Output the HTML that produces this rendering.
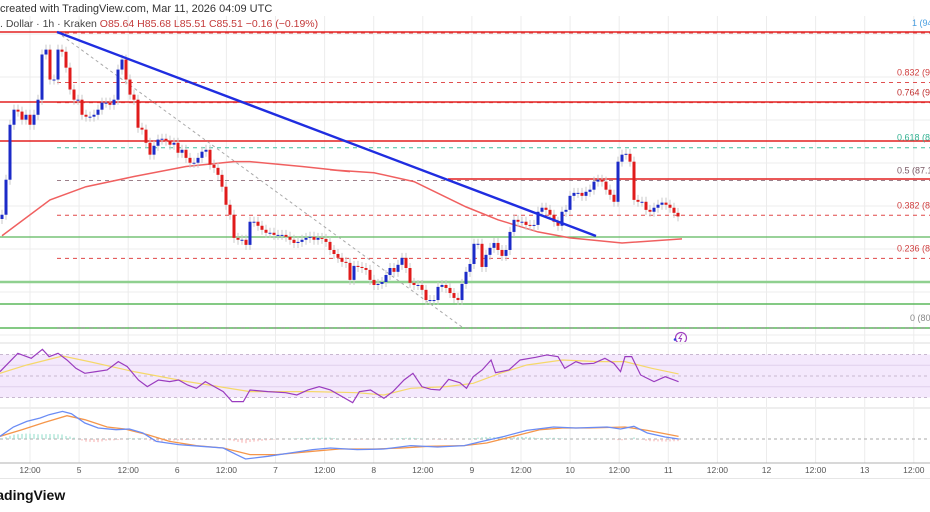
<!DOCTYPE html>
<html><head><meta charset="utf-8">
<style>
html,body{margin:0;padding:0;background:#fff;}
body{width:930px;height:512px;overflow:hidden;position:relative;font-family:"Liberation Sans",sans-serif;}
svg{position:absolute;left:0;top:0;}
</style></head>
<body>
<svg id="chart" width="930" height="512"></svg>
<script>
// ---- data ----
const closes=[85.59,87.24,89.83,90.54,90.45,90.07,90.30,89.83,90.30,91.01,93.14,93.37,91.96,91.96,93.37,93.27,92.52,91.49,91.01,91.01,90.30,90.21,90.21,90.30,90.54,90.87,90.87,90.77,91.01,92.43,92.90,91.96,91.25,91.01,89.69,89.60,88.98,88.42,88.84,89.13,89.17,89.08,88.89,88.98,88.51,88.65,88.27,88.04,88.04,88.27,88.56,88.65,87.95,87.80,87.47,86.91,86.06,85.59,84.50,84.41,84.41,84.17,85.26,85.26,85.07,84.88,84.74,84.74,84.64,84.64,84.64,84.55,84.41,84.26,84.31,84.41,84.50,84.55,84.41,84.50,84.45,84.31,83.93,83.74,83.56,83.37,83.32,82.52,83.18,83.13,83.08,82.99,82.52,82.28,82.33,82.42,82.75,83.08,82.90,83.23,83.56,83.08,82.38,82.28,82.28,82.05,81.57,81.57,81.57,82.19,82.28,82.14,81.90,81.67,81.57,82.33,82.90,83.27,84.22,84.22,83.13,83.70,84.03,84.26,83.93,83.65,83.93,84.78,85.35,85.26,85.26,85.11,85.07,85.11,85.73,85.92,85.82,85.59,85.26,85.07,85.73,85.82,86.48,86.62,86.62,86.48,86.67,86.77,87.15,87.24,87.15,86.77,86.53,86.20,88.09,88.42,88.46,88.09,86.29,86.20,86.20,85.82,85.73,85.92,86.06,86.16,86.06,85.92,85.68,85.51];
const maIdx=[0,12,21,33,46,58,62,75,87,82,93,103,116,124,134,142,155,170];
const maVals=[84.60,86.29,86.91,87.39,87.86,88.09,88.09,87.86,87.62,87.71,87.57,87.15,85.96,85.35,84.78,84.50,84.26,84.45];
const rsiX=[0,40,70,95,110,130,150,170,190,215,240,265,285,310,330,355,380,400,420,440,460,480,500,520,545,560,600,640,665,690,715,740,760,790,805,830,860,880,905,925,945,965,985,1005,1030,1045,1060,1080,1100,1110,1140,1165,1200,1225,1250,1265,1290,1305,1330,1355,1375,1390,1400,1415,1435,1465,1490,1520];
const rsiVals=[54.05,71.1,66.45,74.8,68,71.1,64.9,57.15,52.5,54.05,55.6,63.35,58.7,46.3,40.1,46.3,44.75,46.3,41.65,38.55,44.75,40.1,35.45,26.15,26.15,37,35.45,34.5,32.35,37,40.1,37,32.35,25.2,35.45,37,29.25,35.45,46.3,52.5,40.1,37.6,37,46.9,43.8,38.55,49.4,55.6,64.9,53.1,55.6,64.9,67.4,69.6,68,57.15,63.35,61.2,61.8,66.45,61.8,54.05,68,68,50.95,44.75,49.4,44.75];
const rsiMaX=[0,60,140,200,300,420,560,700,800,860,920,1000,1060,1120,1180,1260,1340,1400,1460,1520];
const rsiMaVals=[52.5,60.25,68.6,63.35,54.05,44.75,35.45,35.45,34.5,32.35,38.55,40.1,43.2,52.5,60.25,64.9,63.35,63.35,57.15,51.9];
const macdX=[0,30,60,90,110,140,160,190,220,260,290,320,350,400,450,500,530,550,600,650,700,740,800,860,920,980,1040,1080,1130,1180,1240,1290,1360,1390,1420,1450,1490,1520];
const macdVals=[0.08,0.36,0.53,0.63,0.73,0.83,0.76,0.48,0.33,0.28,0.30,0.18,-0.07,-0.17,-0.22,-0.27,-0.47,-0.60,-0.52,-0.42,-0.32,-0.27,-0.32,-0.30,-0.20,-0.24,-0.20,-0.07,0.08,0.26,0.36,0.33,0.36,0.30,0.38,0.18,0.06,0];
const sigX=[0,50,100,150,190,240,280,330,380,440,500,560,620,700,760,840,900,960,1040,1090,1150,1210,1260,1320,1400,1450,1520];
const sigVals=[0.08,0.28,0.50,0.70,0.58,0.36,0.30,0.13,-0.07,-0.20,-0.27,-0.47,-0.47,-0.37,-0.30,-0.30,-0.27,-0.22,-0.20,-0.12,0.08,0.28,0.33,0.33,0.36,0.26,0.08];
const fibLevels=[1,0.832,0.764,0.618,0.5,0.382,0.236,0];
const fibLabels=["1 (94.11)","0.832 (91.77)","0.764 (90.82)","0.618 (88.80)","0.5 (87.15)","0.382 (85.52)","0.236 (83.49)","0 (80.22)"];
const timeLabels=["12:00","5","12:00","6","12:00","7","12:00","8","12:00","9","12:00","10","12:00","11","12:00","12","12:00","13","12:00"];

// ---- scales ----
const pTop=94.2,pBot=80.3,yTop=32,yBot=327;
function py(p){return yTop+(pTop-p)*(yBot-yTop)/(pTop-pBot);}
function cx(i){return 2+i*4;}
function rx(px){return px/2.24;}
function ry(v){return 376-(v-50)*1.075;}
function my(v){return 439-v*33.3;}
function fy(l){return 327-l*295;}
const svg=document.getElementById('chart');
const NS='http://www.w3.org/2000/svg';
function mk(tag,attrs,parent){const e=document.createElementNS(NS,tag);for(const k in attrs)e.setAttribute(k,attrs[k]);(parent||svg).appendChild(e);return e;}

// grid
const gGrid=mk('g',{});


timeLabels.forEach((t,i)=>{const x=30+i*49.1;mk('line',{x1:x,y1:16,x2:x,y2:463,stroke:'#ececec','stroke-width':1},gGrid);});
for(let k=0;k<8;k++){const y=34+k*43;mk('line',{x1:0,y1:y,x2:930,y2:y,stroke:'#ececec','stroke-width':1},gGrid);}
[365,387].forEach(y=>mk('line',{x1:0,y1:y,x2:930,y2:y,stroke:'#ececec'},gGrid));

// header
const h1=mk('text',{x:0,y:12,'font-size':'11',fill:'#333'});h1.textContent='created with TradingView.com, Mar 11, 2026 04:09 UTC';

const h2=mk('text',{x:0,y:27,'font-size':'10.5',fill:'#444'});

h2.innerHTML='. Dollar · 1h · Kraken  <tspan fill="#c43a3a">O85.64  H85.68  L85.51  C85.51  −0.16 (−0.19%)</tspan>';

// horizontal levels
const gLv=mk('g',{});

[[0,32],[0,102],[0,141],[448,179]].forEach(a=>mk('line',{x1:a[0],y1:a[1],x2:930,y2:a[1],stroke:'#e32020','stroke-width':1.6},gLv));
[[237,1.3],[282,2.5],[304,1.5],[328,1.5]].forEach(a=>mk('line',{x1:0,y1:a[0],x2:930,y2:a[0],stroke:a[1]>2?'#8fd08f':'#5cb85c','stroke-width':a[1]},gLv));

// fib
const fibCol=['#e04040','#e05050','#e03030','#40c0a0','#9c7f8a','#e04848','#e04848','#888'];
const lblCol=['#4a9fe0','#d04040','#c03030','#30b090','#7a5a66','#d04040','#d04040','#888'];
fibLevels.forEach((l,i)=>{
  const y=fy(l)+(l===0.618?2:0);
  const ln=mk('line',{x1:57,y1:y+1,x2:930,y2:y+1,stroke:fibCol[i],'stroke-width':1,'stroke-dasharray':'4,4'});
  
  const t=mk('text',{x:l===1?912:(l===0?910:897),y:y-6,'font-size':'9',fill:lblCol[i]});
  t.textContent=fibLabels[i];
  
});
// diagonal fib trend
const dg=mk('line',{x1:57,y1:32,x2:462,y2:327,stroke:'#aaa','stroke-width':1,'stroke-dasharray':'3,3'});


// MA
let d='';maIdx.forEach((k,i)=>{d+=(i?'L':'M')+cx(k)+','+py(maVals[i]);});
const ma=mk('path',{d:d,fill:'none',stroke:'#f06060','stroke-width':1.5});


// candles
const gC=mk('g',{});

closes.forEach((c,i)=>{
  const o=i?closes[i-1]:c-0.2;const up=c>=o;const col=up?'#1c2bc8':'#e01b1b';
  const y1=py(Math.max(o,c)),y2=py(Math.min(o,c));const x=cx(i);
  mk('line',{x1:x,y1:y1-5,x2:x,y2:y2+5,stroke:'#c8c8c8','stroke-width':1},gC);
  const b=mk('rect',{x:x-1.5,y:y1,width:3,height:Math.max(1,y2-y1),fill:col},gC);
  
  
});

// trend line
const tl=mk('line',{x1:57,y1:32,x2:596,y2:236,stroke:'#1f2de0','stroke-width':2.4});


// icon
const ic=mk('g',{});

mk('circle',{cx:681,cy:338,r:5.5,fill:'none',stroke:'#a040c0','stroke-width':1.2},ic);
mk('path',{d:'M682,334 L679,338.5 L681.5,338.5 L680,342',fill:'none',stroke:'#a040c0','stroke-width':1},ic);
mk('circle',{cx:675,cy:339.5,r:1.3,fill:'#3040e0'},ic);

// pane separators
[343,408].forEach(y=>{const s=mk('rect',{x:0,y:y-1,width:930,height:2,fill:'#eeeeee'});});

// RSI pane
const band=mk('rect',{x:0,y:ry(70),width:930,height:ry(30)-ry(70),fill:'#f4e8fc'});

[70,50,30].forEach(v=>mk('line',{x1:0,y1:ry(v),x2:930,y2:ry(v),stroke:'#c8b8d0','stroke-dasharray':'3,3'}));
[60,40].forEach(v=>mk('line',{x1:0,y1:ry(v),x2:930,y2:ry(v),stroke:'#e0d0ec'}));
d='';rsiMaX.forEach((x,i)=>{d+=(i?'L':'M')+rx(x)+','+ry(rsiMaVals[i]);});
const rm=mk('path',{d:d,fill:'none',stroke:'#f5d86a','stroke-width':1.2});

d='';rsiX.forEach((x,i)=>{d+=(i?'L':'M')+rx(x)+','+ry(rsiVals[i]);});
const rl=mk('path',{d:d,fill:'none',stroke:'#9a3cbf','stroke-width':1.2});


// MACD pane
mk('line',{x1:0,y1:my(0),x2:930,y2:my(0),stroke:'#aaa','stroke-dasharray':'3,3'});
function interp(xs,vs,x){for(let i=1;i<xs.length;i++){if(x<=xs[i]){const t=(x-xs[i-1])/(xs[i]-xs[i-1]);return vs[i-1]+t*(vs[i]-vs[i-1]);}}return vs[vs.length-1];}
const gH=mk('g',{});

for(let i=0;i<closes.length;i++){
  const px=cx(i)*2.24;const h=(interp(macdX,macdVals,px)-interp(sigX,sigVals,px))*0.8;
  const y0=my(0),y1=my(h);
  mk('rect',{x:cx(i)-0.5,y:Math.min(y0,y1),width:1,height:Math.abs(y1-y0),fill:h>=0?'#8fdcc8':'#f7abab'},gH);
}
d='';sigX.forEach((x,i)=>{d+=(i?'L':'M')+rx(x)+','+my(sigVals[i]);});
const sg=mk('path',{d:d,fill:'none',stroke:'#f5964a','stroke-width':1.3});

d='';macdX.forEach((x,i)=>{d+=(i?'L':'M')+rx(x)+','+my(macdVals[i]);});
const mc=mk('path',{d:d,fill:'none',stroke:'#6a8cf5','stroke-width':1.3});


// time axis
mk('line',{x1:0,y1:463,x2:930,y2:463,stroke:'#b0b0b0','stroke-width':1});
mk('line',{x1:0,y1:478.5,x2:930,y2:478.5,stroke:'#e6e6e6','stroke-width':1});
timeLabels.forEach((t,i)=>{
  const el=mk('text',{x:30+i*49.1,y:473,'font-size':'8.5',fill:'#555','text-anchor':'middle'});
  el.textContent=t;
  
  
});
const logo=mk('text',{x:-17,y:500,'font-size':'14','font-weight':'bold',fill:'#111'});
logo.textContent='TradingView';

</script>
</body></html>
